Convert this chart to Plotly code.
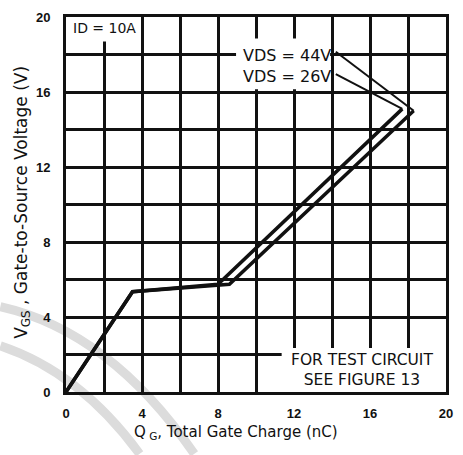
import plotly.graph_objects as go

# Gate charge curves, ID = 10A
q_26 = [0, 3.5, 8.0, 17.7]
v_26 = [0, 5.35, 5.75, 15.1]
q_44 = [0, 3.5, 8.6, 18.3]
v_44 = [0, 5.35, 5.75, 15.0]

x_ticks = [0, 4, 8, 12, 16, 20]
y_ticks = [0, 4, 8, 12, 16, 20]

W, H = 463, 455
M_L, M_R, M_T, M_B = 66, 15, 10, 63

INK = "#111111"
tick_font = dict(family="Liberation Sans Narrow, Liberation Sans, Arial", size=13, color=INK, weight="bold")
label_font = dict(family="DejaVu Sans", color=INK)

fig = go.Figure()
for q, v in ((q_44, v_44), (q_26, v_26)):
    fig.add_trace(go.Scatter(x=q, y=v, mode="lines", line=dict(color=INK, width=3.5),
                             showlegend=False, hoverinfo="skip"))

axis_common = dict(
    range=[0, 20], tickmode="array", showgrid=True, gridcolor=INK, gridwidth=2.5,
    minor=dict(dtick=2, showgrid=True, gridcolor=INK, gridwidth=2.5),
    zeroline=False, showline=True, mirror=True, linecolor=INK, linewidth=3,
    ticks="", tickfont=tick_font, fixedrange=True,
)

fig.update_layout(
    width=W, height=H,
    margin=dict(l=M_L, r=M_R, t=M_T, b=M_B),
    paper_bgcolor="white", plot_bgcolor="white",
    xaxis=dict(axis_common, tickvals=x_ticks, ticklabelstandoff=7),
    yaxis=dict(axis_common, tickvals=y_ticks, ticklabelstandoff=10),
)


def px_to_paper(px, py):
    pw, ph = W - M_L - M_R, H - M_T - M_B
    return (px - M_L) / pw, (H - M_B - py) / ph


# axis titles
tx, ty = px_to_paper(237, 433)
fig.add_annotation(x=tx, y=ty, xref="paper", yref="paper", showarrow=False,
                   xanchor="center", yanchor="middle",
                   text="Q<sub> G</sub>, Total Gate Charge (nC)", font=dict(label_font, size=15))
tx, ty = px_to_paper(22, 199)
fig.add_annotation(x=tx, y=ty, xref="paper", yref="paper", showarrow=False, textangle=-90,
                   xanchor="center", yanchor="middle",
                   text="V<sub>GS</sub> , Gate-to-Source Voltage (V)", font=dict(label_font, size=17))

# faint background swooshes
for pts in (((0, 305), (110, 330), (195, 455)),
            ((0, 345), (80, 372), (140, 455))):
    (ax, ay), (cx, cy), (bx, by) = (px_to_paper(*p) for p in pts)
    fig.add_shape(type="path", xref="paper", yref="paper",
                  path=f"M {ax},{ay} Q {cx},{cy} {bx},{by}",
                  line=dict(color="#dcdcdc", width=9), layer="below")

# white label panels cut through the grid
for x0, x1, y0, y1 in ((0, 3.9, 18.7, 20), (8.95, 13.9, 16.15, 18.85), (11.35, 20, 0, 2.35)):
    fig.add_shape(type="rect", xref="x", yref="y", x0=x0, x1=x1, y0=y0, y1=y1,
                  fillcolor="white", line=dict(width=0), layer="between")

# leader lines from the VDS labels to the curve ends
fig.add_shape(type="line", xref="x", yref="y", x0=14.2, y0=18.15, x1=q_44[-1], y1=v_44[-1],
              line=dict(color=INK, width=2))
fig.add_shape(type="line", xref="x", yref="y", x0=14.2, y0=16.95, x1=q_26[-1], y1=v_26[-1],
              line=dict(color=INK, width=2))

fig.add_annotation(x=0.25, y=19.4, xref="x", yref="y", text="ID = 10A", showarrow=False,
                   xanchor="left", font=dict(label_font, size=14))
fig.add_annotation(x=9.2, y=17.95, xref="x", yref="y", text="VDS = 44V", showarrow=False,
                   xanchor="left", font=dict(label_font, size=16))
fig.add_annotation(x=9.2, y=16.85, xref="x", yref="y", text="VDS = 26V", showarrow=False,
                   xanchor="left", font=dict(label_font, size=16))
fig.add_annotation(x=15.6, y=1.15, xref="x", yref="y", text="FOR TEST CIRCUIT<br>SEE FIGURE 13",
                   showarrow=False, align="center", font=dict(label_font, size=15.5))

fig.write_html("out.html")
